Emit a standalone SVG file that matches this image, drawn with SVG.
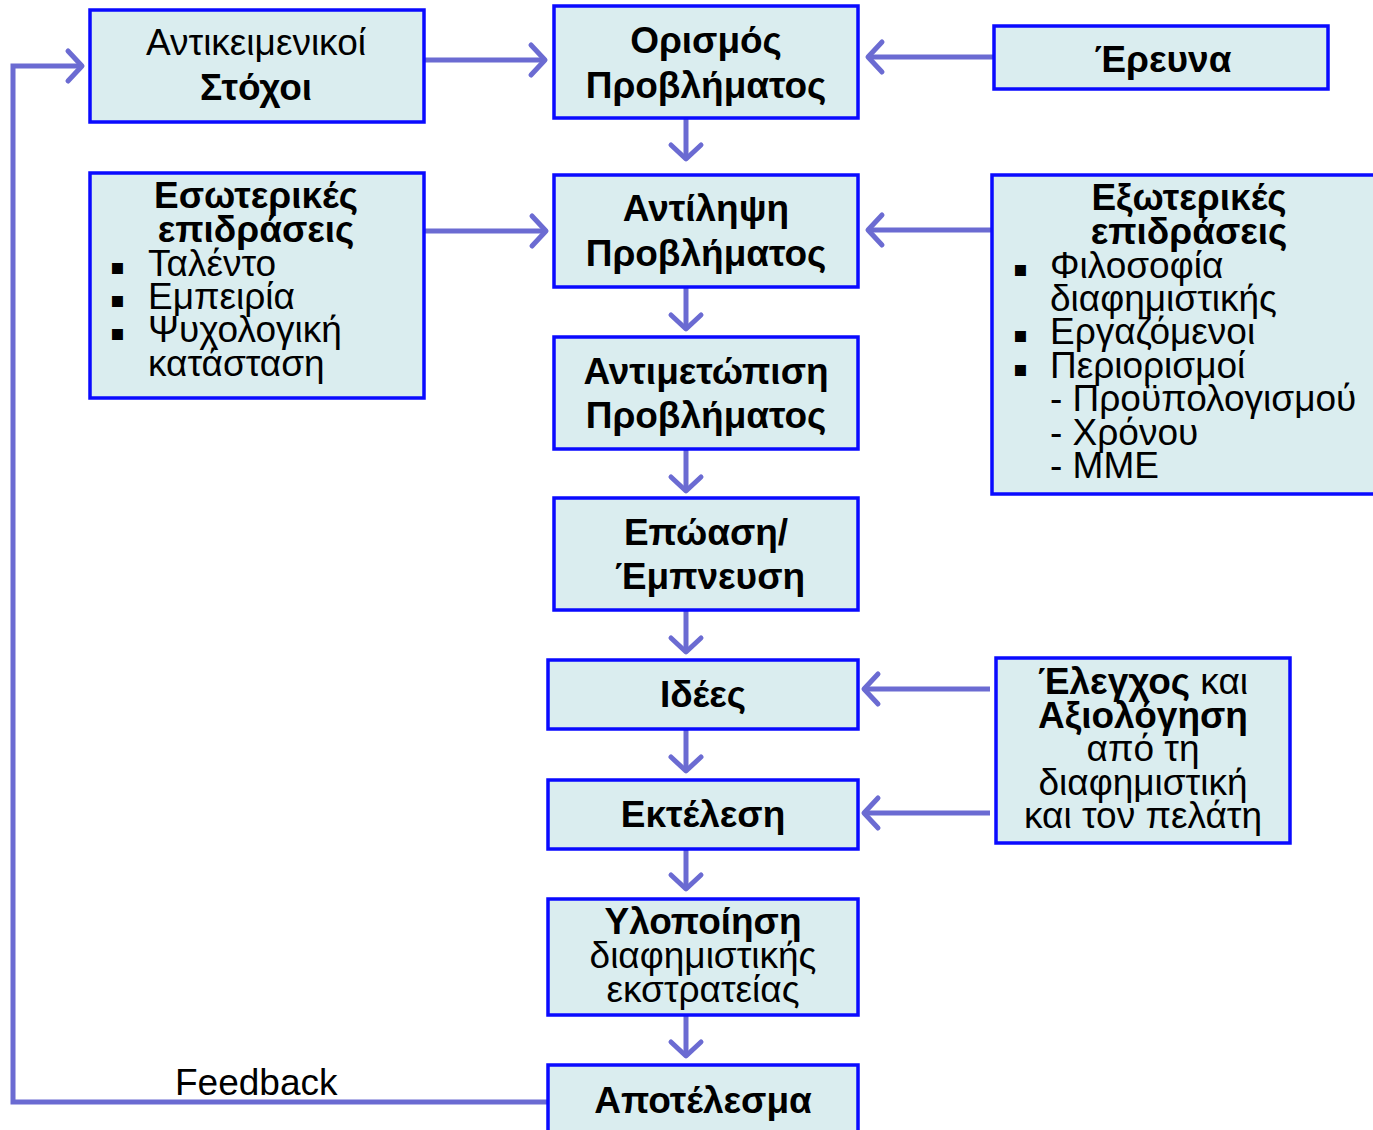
<svg xmlns="http://www.w3.org/2000/svg" width="1373" height="1130" viewBox="0 0 1373 1130">
<style>
.box{fill:#daedef;stroke:#0a0aff;stroke-width:3.5}
.t{font-family:"Liberation Sans",Arial,sans-serif;font-size:37px;fill:#000}
.b{font-weight:bold}
.c{text-anchor:middle}
.con{fill:none;stroke:#6b6bd2;stroke-width:5}
.bul{font-family:"DejaVu Sans",sans-serif;font-size:22px}
</style>
<defs>
<marker id="ah" markerUnits="userSpaceOnUse" markerWidth="40" markerHeight="40" viewBox="-20 -20 40 40" refX="0" refY="0" orient="auto">
<path d="M -14 -15 L 0 0 L -14 15" fill="none" stroke="#6b6bd2" stroke-width="5" stroke-linecap="round" stroke-linejoin="round"/>
</marker>
</defs>
<g id="connectors">
<path class="con" d="M548 1102 L13 1102 L13 66 L82 66" marker-end="url(#ah)"/>
<path class="con" d="M424 60 L545 60" marker-end="url(#ah)"/>
<path class="con" d="M994 57 L868 57" marker-end="url(#ah)"/>
<path class="con" d="M424 231 L546 231" marker-end="url(#ah)"/>
<path class="con" d="M992 230 L868 230" marker-end="url(#ah)"/>
<path class="con" d="M990 689 L864 689" marker-end="url(#ah)"/>
<path class="con" d="M990 813 L864 813" marker-end="url(#ah)"/>
<path class="con" d="M686 118 L686 159" marker-end="url(#ah)"/>
<path class="con" d="M686 287 L686 329" marker-end="url(#ah)"/>
<path class="con" d="M686 449 L686 491" marker-end="url(#ah)"/>
<path class="con" d="M686 610 L686 652" marker-end="url(#ah)"/>
<path class="con" d="M686 729 L686 771" marker-end="url(#ah)"/>
<path class="con" d="M686 849 L686 889" marker-end="url(#ah)"/>
<path class="con" d="M686 1015 L686 1056" marker-end="url(#ah)"/>
</g>
<g id="stoxoi">
<rect class="box" x="90" y="10" width="334" height="112"/>
<text class="t c" x="256" y="55">Αντικειμενικοί</text>
<text class="t c" x="256" y="100"><tspan class="b">Στόχοι</tspan></text>
</g>
<g id="orismos">
<rect class="box" x="554" y="6" width="304" height="112"/>
<text class="t c b" x="706" y="53">Ορισμός</text>
<text class="t c b" x="706" y="98">Προβλήματος</text>
</g>
<g id="erevna">
<rect class="box" x="994" y="26" width="334" height="63"/>
<text class="t c b" x="1163" y="72">Έρευνα</text>
</g>
<g id="esoterikes">
<rect class="box" x="90" y="173" width="334" height="225"/>
<text class="t c b" x="256" y="208">Εσωτερικές</text>
<text class="t c b" x="256" y="242">επιδράσεις</text>
<text class="bul" x="110" y="274">▪</text>
<text class="t" x="148" y="276">Ταλέντο</text>
<text class="bul" x="110" y="307">▪</text>
<text class="t" x="148" y="309">Εμπειρία</text>
<text class="bul" x="110" y="340">▪</text>
<text class="t" x="148" y="342">Ψυχολογική</text>
<text class="t" x="148" y="376">κατάσταση</text>
</g>
<g id="antilipsi">
<rect class="box" x="554" y="175" width="304" height="112"/>
<text class="t c b" x="706" y="221">Αντίληψη</text>
<text class="t c b" x="706" y="266">Προβλήματος</text>
</g>
<g id="exoterikes">
<rect class="box" x="992" y="175" width="390" height="319"/>
<text class="t c b" x="1189" y="210">Εξωτερικές</text>
<text class="t c b" x="1189" y="244">επιδράσεις</text>
<text class="bul" x="1013" y="276">▪</text>
<text class="t" x="1050" y="278">Φιλοσοφία</text>
<text class="t" x="1050" y="311">διαφημιστικής</text>
<text class="bul" x="1013" y="342">▪</text>
<text class="t" x="1050" y="344">Εργαζόμενοι</text>
<text class="bul" x="1013" y="376">▪</text>
<text class="t" x="1050" y="378">Περιορισμοί</text>
<text class="t" x="1050" y="411">- Προϋπολογισμού</text>
<text class="t" x="1050" y="445">- Χρόνου</text>
<text class="t" x="1050" y="478">- ΜΜΕ</text>
</g>
<g id="antimetopisi">
<rect class="box" x="554" y="337" width="304" height="112"/>
<text class="t c b" x="706" y="384">Αντιμετώπιση</text>
<text class="t c b" x="706" y="428">Προβλήματος</text>
</g>
<g id="epoasi">
<rect class="box" x="554" y="498" width="304" height="112"/>
<text class="t c b" x="706" y="545">Επώαση/</text>
<text class="t c b" x="710" y="589">Έμπνευση</text>
</g>
<g id="idees">
<rect class="box" x="548" y="660" width="310" height="69"/>
<text class="t c b" x="703" y="707">Ιδέες</text>
</g>
<g id="ektelesi">
<rect class="box" x="548" y="780" width="310" height="69"/>
<text class="t c b" x="703" y="827">Εκτέλεση</text>
</g>
<g id="elegxos">
<rect class="box" x="996" y="658" width="294" height="185"/>
<text class="t c" x="1143" y="694"><tspan class="b">Έλεγχος</tspan> και</text>
<text class="t c b" x="1143" y="728">Αξιολόγηση</text>
<text class="t c" x="1143" y="761">από τη</text>
<text class="t c" x="1143" y="795">διαφημιστική</text>
<text class="t c" x="1143" y="828">και τον πελάτη</text>
</g>
<g id="ylopoiisi">
<rect class="box" x="548" y="899" width="310" height="116"/>
<text class="t c b" x="703" y="934">Υλοποίηση</text>
<text class="t c" x="703" y="968">διαφημιστικής</text>
<text class="t c" x="703" y="1002">εκστρατείας</text>
</g>
<g id="apotelesma">
<rect class="box" x="548" y="1065" width="310" height="80"/>
<text class="t c b" x="703" y="1113">Αποτέλεσμα</text>
</g>
<text class="t" x="175" y="1095">Feedback</text>
</svg>
